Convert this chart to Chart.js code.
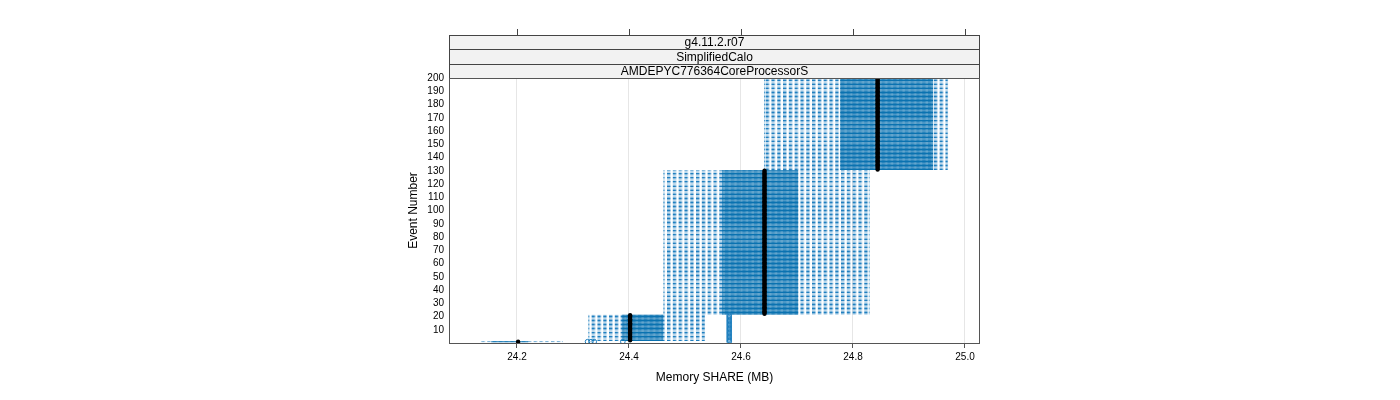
<!DOCTYPE html>
<html>
<head>
<meta charset="utf-8">
<script src="https://cdn.jsdelivr.net/npm/chart.js@4.4.0/dist/chart.umd.min.js"></script>
<style>
  html, body { margin: 0; padding: 0; background: #fff; }
  #wrap { width: 1400px; height: 400px; }
</style>
</head>
<body>
<div id="wrap"><canvas id="memChart" width="1400" height="400"></canvas></div>
<script>
// strip labels (outer to inner) and axis ticks
var stripLabels = ['g4.11.2.r07', 'SimplifiedCalo', 'AMDEPYC776364CoreProcessorS'];
var xTicks = [24.2, 24.4, 24.6, 24.8, 25.0];
var yTicks = [10, 20, 30, 40, 50, 60, 70, 80, 90, 100, 110, 120, 130, 140, 150, 160, 170, 180, 190, 200];

// event ranges that share the same box
var groupFirst = [1, 2, 22, 131];
var groupLast = [1, 21, 130, 200];
var whiskerLow = [24.136, 24.327, 24.461, 24.641];
var lowerQuartile = [24.154, 24.388, 24.566, 24.777];
var medianShare = [24.202, 24.402, 24.642, 24.844];
var upperQuartile = [24.220, 24.461, 24.702, 24.943];
var whiskerHigh = [24.282, 24.536, 24.830, 24.970];

// outliers: events outFirst..outLast at outShare
var outFirst = [1, 1, 1, 1, 1];
var outLast = [1, 1, 1, 1, 21];
var outShare = [24.326, 24.332, 24.338, 24.389, 24.579];

Chart.defaults.font.family = '"Liberation Sans", Arial, sans-serif';
Chart.defaults.color = '#000';

var whiskerData = [], boxData = [], medianData = [], outlierData = [];
for (var g = 0; g < groupFirst.length; g++) {
    for (var ev = groupFirst[g]; ev <= groupLast[g]; ev++) {
        whiskerData.push({ y: ev, x: [whiskerLow[g], whiskerHigh[g]] });
        boxData.push({ y: ev, x: [lowerQuartile[g], upperQuartile[g]] });
        medianData.push({ y: ev, x: medianShare[g] });
    }
}
for (var o = 0; o < outShare.length; o++) {
    for (var e = outFirst[o]; e <= outLast[o]; e++) {
        outlierData.push({ y: e, x: outShare[o] });
    }
}

var canvas = document.getElementById('memChart');
var ctx = canvas.getContext('2d');

// dashed whisker look: vertical stripes
var tile = document.createElement('canvas');
tile.width = 6; tile.height = 4;
var tctx = tile.getContext('2d');
tctx.fillStyle = 'rgba(20,120,188,0.95)';
tctx.fillRect(0, 0, 3.5, 4);
var stripes = ctx.createPattern(tile, 'repeat');
if (stripes.setTransform && window.DOMMatrix) {
    stripes.setTransform(new DOMMatrix([5.8 / 6, 0, 0, 1, 0, 0]));
}

var latticeFrame = {
    id: 'latticeFrame',
    afterDraw: function(chart) {
        var c = chart.ctx, a = chart.chartArea, xs = chart.scales.x;
        c.save();
        // strips
        var tops = [35, 49, 64, 78];
        for (var i = 0; i < stripLabels.length; i++) {
            c.fillStyle = '#f2f2f2';
            c.fillRect(a.left, tops[i], a.right - a.left, tops[i + 1] - tops[i]);
            c.strokeStyle = '#444';
            c.lineWidth = 1;
            c.strokeRect(a.left + 0.5, tops[i] + 0.5, a.right - a.left - 1, tops[i + 1] - tops[i]);
            c.fillStyle = '#000';
            c.font = '12px "Liberation Sans", Arial, sans-serif';
            c.textAlign = 'center';
            c.textBaseline = 'middle';
            c.fillText(stripLabels[i], (a.left + a.right) / 2, (tops[i] + tops[i + 1]) / 2 + 1);
        }
        // top tick marks
        c.strokeStyle = '#444';
        c.beginPath();
        xTicks.forEach(function(v) {
            var px = Math.round(xs.getPixelForValue(v)) + 0.5;
            c.moveTo(px, 29);
            c.lineTo(px, 35);
        });
        c.stroke();
        // panel border
        c.strokeStyle = '#555';
        c.strokeRect(a.left + 0.5, a.top + 0.5, a.right - a.left - 1, a.bottom - a.top);
        c.restore();
    }
};

var memChart = new Chart(ctx, {
    data: {
        datasets: [{
            type: 'scatter',
            label: 'outliers',
            data: outlierData,
            pointRadius: 2.3,
            pointBackgroundColor: 'rgba(0,0,0,0)',
            pointBorderColor: '#1b7dbd',
            pointBorderWidth: 1,
            order: 0
        }, {
            type: 'scatter',
            label: 'median',
            data: medianData,
            pointRadius: 2.2,
            pointBackgroundColor: '#000',
            pointBorderWidth: 0,
            order: 1
        }, {
            type: 'bar',
            label: 'box',
            indexAxis: 'y',
            data: boxData,
            backgroundColor: '#0a72b0',
            borderWidth: 0,
            grouped: false,
            categoryPercentage: 0.85,
            barPercentage: 0.95,
            order: 2
        }, {
            type: 'bar',
            label: 'whisker',
            indexAxis: 'y',
            data: whiskerData,
            backgroundColor: stripes,
            borderColor: 'rgba(25,125,190,0.8)',
            borderWidth: { left: 1, right: 1, top: 0, bottom: 0 },
            borderSkipped: false,
            grouped: false,
            categoryPercentage: 0.85,
            barPercentage: 0.95,
            order: 3
        }]
    },
    options: {
        responsive: false,
        animation: false,
        layout: { padding: { left: 400, right: 420, top: 78, bottom: 12 } },
        plugins: {
            legend: { display: false },
            tooltip: { enabled: false }
        },
        scales: {
            x: {
                type: 'linear',
                position: 'bottom',
                offset: false,
                min: 24.0786,
                max: 25.0268,
                afterBuildTicks: function(s) { s.ticks = xTicks.map(function(v) { return { value: v }; }); },
                afterFit: function(s) { s.height = 45; },
                ticks: {
                    font: { size: 10 },
                    padding: 3,
                    maxRotation: 0,
                    autoSkip: false,
                    callback: function(v) { return Number(v).toFixed(1); }
                },
                grid: { color: '#e6e6e6', tickColor: '#555', tickLength: 5, drawOnChartArea: true },
                border: { display: false },
                title: { display: true, text: 'Memory SHARE (MB)', font: { size: 12 }, padding: { top: 0, bottom: 3 } }
            },
            y: {
                type: 'linear',
                position: 'left',
                offset: false,
                min: 0,
                max: 200,
                afterBuildTicks: function(s) { s.ticks = yTicks.map(function(v) { return { value: v }; }); },
                afterFit: function(s) { s.width = 49; },
                ticks: { font: { size: 10 }, padding: 5, autoSkip: false },
                grid: { display: false, drawTicks: false },
                border: { display: false },
                title: { display: true, text: 'Event Number', font: { size: 12 }, padding: { top: 6, bottom: 0 } }
            }
        }
    },
    plugins: [latticeFrame]
});
</script>
</body>
</html>
